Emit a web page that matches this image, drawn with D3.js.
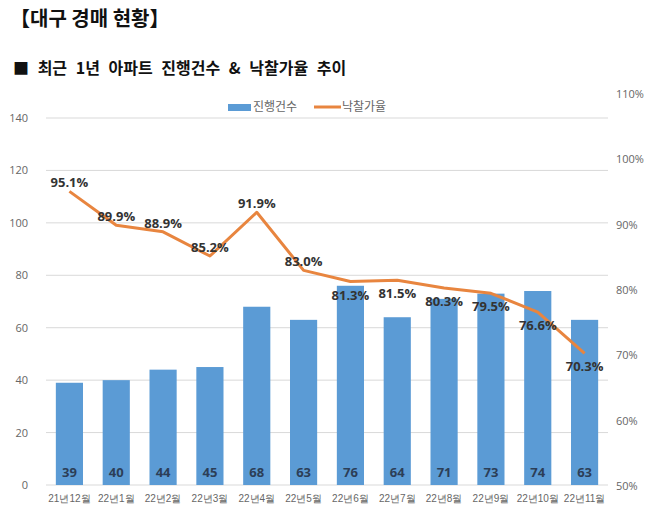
<!DOCTYPE html>
<html><head><meta charset="utf-8">
<script src="https://cdn.jsdelivr.net/npm/d3@7"></script>
<style>
html,body{margin:0;padding:0;background:#fff;}
svg{display:block;font-family:"Noto Sans CJK KR","Noto Sans",sans-serif;}
</style></head>
<body>
<svg id="chart" width="658" height="518"></svg>
<script>
const categories = ["21년12월","22년1월","22년2월","22년3월","22년4월","22년5월","22년6월","22년7월","22년8월","22년9월","22년10월","22년11월"];
const counts = [39,40,44,45,68,63,76,64,71,73,74,63];
const rates = [0.951,0.899,0.889,0.852,0.919,0.830,0.813,0.815,0.803,0.795,0.766,0.703];
const rateLabelSide = ["above","above","above","above","above","above","below","below","below","below","below","below"];
const leftTicks = [0,20,40,60,80,100,120,140];
const rightTicks = [0.5,0.6,0.7,0.8,0.9,1.0,1.1];

const svg = d3.select("#chart");
const x = d3.scaleBand().domain(categories).range([46,608]).paddingInner(0.42).paddingOuter(0.21);
const yL = d3.scaleLinear().domain([0,140]).range([485,118]);
const yR = d3.scaleLinear().domain([0.5,1.1]).range([486,94]);

// titles
svg.append("text").attr("x",10).attr("y",26).attr("font-size",20).attr("font-weight","bold").attr("fill","#111").text("【대구 경매 현황】");
svg.append("text").attr("x",13).attr("y",74).attr("font-size",16).attr("font-weight","bold").attr("fill","#111").attr("word-spacing","5").text("■ 최근 1년 아파트 진행건수 & 낙찰가율 추이");

// gridlines
svg.append("g").selectAll("line").data(leftTicks).join("line")
  .attr("x1",46).attr("x2",608).attr("y1",d=>yL(d)).attr("y2",d=>yL(d))
  .attr("stroke","#d9d9d9").attr("stroke-width",1);

// left axis
const axL = d3.axisLeft(yL).tickValues(leftTicks).tickSize(0).tickPadding(8);
const gL = svg.append("g").attr("transform","translate(36,0)").call(axL);
gL.select(".domain").remove();
gL.selectAll("text").attr("font-size",11).attr("fill","#666").attr("font-family","'Open Sans','DejaVu Sans',sans-serif");

// right axis
const axR = d3.axisRight(yR).tickValues(rightTicks).tickSize(0).tickPadding(0).tickFormat(d3.format(".0%"));
const gR = svg.append("g").attr("transform","translate(616,0)").call(axR);
gR.select(".domain").remove();
gR.selectAll("text").attr("font-size",11).attr("fill","#666").attr("font-family","'Open Sans','DejaVu Sans',sans-serif");

// x axis labels
const axX = d3.axisBottom(x).tickSize(0).tickPadding(10);
const gX = svg.append("g").attr("transform","translate(0,485)").call(axX);
gX.select(".domain").remove();
gX.selectAll("text").attr("font-size",10).attr("fill","#666");

// bars
svg.append("g").selectAll("rect").data(counts).join("rect")
  .attr("x",(d,i)=>x(categories[i])).attr("width",x.bandwidth())
  .attr("y",d=>yL(d)).attr("height",d=>yL(0)-yL(d))
  .attr("fill","#5b9bd5");

// bar labels
svg.append("g").selectAll("text").data(counts).join("text")
  .attr("x",(d,i)=>x(categories[i])+x.bandwidth()/2).attr("y",477)
  .attr("text-anchor","middle").attr("font-size",13).attr("font-weight","bold")
  .attr("fill","#2c3e57").attr("font-family","'Open Sans','DejaVu Sans',sans-serif")
  .text(d=>d);

// line
const line = d3.line().x((d,i)=>x(categories[i])+x.bandwidth()/2).y(d=>yR(d));
svg.append("path").datum(rates).attr("d",line).attr("fill","none")
  .attr("stroke","#e8853f").attr("stroke-width",3).attr("stroke-linejoin","round");

// line labels
svg.append("g").selectAll("text").data(rates).join("text")
  .attr("x",(d,i)=>x(categories[i])+x.bandwidth()/2)
  .attr("y",(d,i)=>rateLabelSide[i]==="above"?yR(d)-4:yR(d)+18)
  .attr("text-anchor","middle").attr("font-size",13).attr("font-weight","bold")
  .attr("fill","#333").attr("font-family","'Open Sans','DejaVu Sans',sans-serif")
  .text(d=>d3.format(".1%")(d));

// legend
const lg = svg.append("g");
lg.append("rect").attr("x",228).attr("y",104).attr("width",23).attr("height",7).attr("fill","#5b9bd5");
lg.append("text").attr("x",253).attr("y",111).attr("font-size",12).attr("fill","#666").text("진행건수");
lg.append("line").attr("x1",314).attr("x2",341).attr("y1",107).attr("y2",107).attr("stroke","#e8853f").attr("stroke-width",3);
lg.append("text").attr("x",342).attr("y",111).attr("font-size",12).attr("fill","#666").text("낙찰가율");
</script>
</body></html>
